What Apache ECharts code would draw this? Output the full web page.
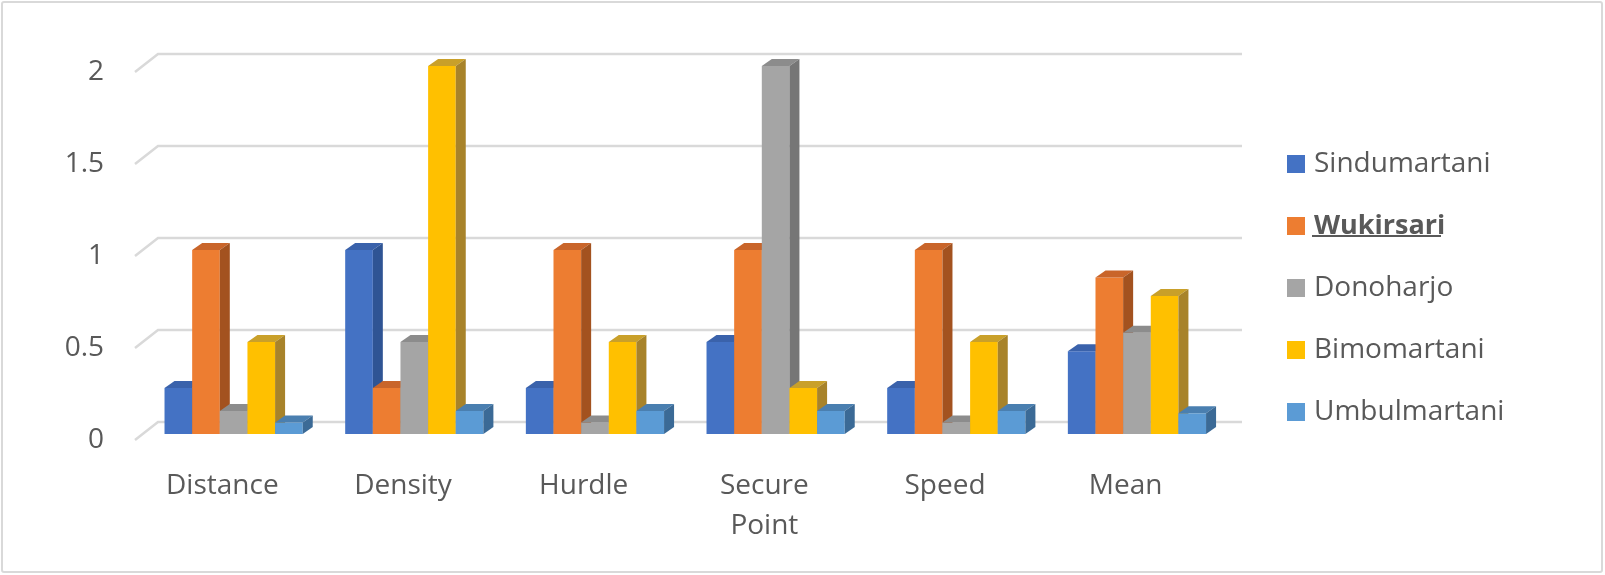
<!DOCTYPE html>
<html>
<head>
<meta charset="utf-8">
<script src="https://cdn.jsdelivr.net/npm/echarts@6/dist/echarts.min.js"></script>
<style>
  html, body { margin: 0; padding: 0; background: #fff; }
  #frame { position: absolute; left: 1px; top: 1px; width: 1602px; height: 572px;
           box-sizing: border-box; border: 2px solid #d9d9d9; border-radius: 3px; }
  #main { position: absolute; left: 0; top: 0; width: 1605px; height: 575px; }
</style>
</head>
<body>
<div id="frame"></div>
<div id="main"></div>
<script>
// values
const categories = ["Distance", "Density", "Hurdle", "Secure\nPoint", "Speed", "Mean"];
const villages = ["Sindumartani", "Wukirsari", "Donoharjo", "Bimomartani", "Umbulmartani"];
const sindumartani = [0.25, 1, 0.25, 0.5, 0.25, 0.45];
const wukirsari = [1, 0.25, 1, 1, 1, 0.85];
const donoharjo = [0.125, 0.5, 0.0625, 2, 0.0625, 0.55];
const bimomartani = [0.5, 2, 0.5, 0.25, 0.5, 0.75];
const umbulmartani = [0.0625, 0.125, 0.125, 0.125, 0.125, 0.1125];
const yTicks = [0, 0.5, 1, 1.5, 2];

const seriesValues = [sindumartani, wukirsari, donoharjo, bimomartani, umbulmartani];
// front / top / side face colours
const faces = [
  ["#4472C4", "#3a62ab", "#2f5494"],
  ["#ED7D31", "#c9652a", "#a3521f"],
  ["#A5A5A5", "#8c8c8c", "#767676"],
  ["#FFC000", "#c9a02a", "#a8832a"],
  ["#5B9BD5", "#4a7fb0", "#3b6a96"],
];
const textColor = "#595959";
const font = "'Open Sans', 'Noto Sans', sans-serif";
const depthX = 10, depthY = 7;

function barRenderer(idx) {
  const [front, top, side] = faces[idx];
  return function (params, api) {
    const c = api.coord([api.value(0), api.value(1)]);
    const base = api.coord([api.value(0), 0]);
    const band = api.size([1, 0])[0];
    const w = band * 0.153;
    const x0 = c[0] - band * 0.32 + idx * w;
    const x1 = x0 + w;
    const yt = c[1], yb = base[1];
    return {
      type: "group",
      children: [
        { type: "rect", shape: { x: x0, y: yt, width: w, height: yb - yt }, style: { fill: front } },
        {
          type: "polygon",
          shape: { points: [[x0, yt], [x1, yt], [x1 + depthX, yt - depthY], [x0 + depthX, yt - depthY]] },
          style: { fill: top },
        },
        {
          type: "polygon",
          shape: { points: [[x1, yt], [x1, yb], [x1 + depthX, yb - depthY], [x1 + depthX, yt - depthY]] },
          style: { fill: side },
        },
      ],
    };
  };
}

// back-wall gridlines with the little diagonal towards the front
function gridRenderer(params, api) {
  const cs = params.coordSys;
  const y0 = api.coord([0, api.value(1)])[1];
  return {
    type: "polyline",
    shape: { points: [[cs.x + 3, y0 + 6], [cs.x + 26, y0 - 12], [cs.x + cs.width + 26, y0 - 12]] },
    style: { stroke: "#d9d9d9", lineWidth: 2.5, fill: null },
  };
}

const series = [
  {
    type: "custom",
    name: "grid",
    renderItem: gridRenderer,
    data: yTicks.map((t) => [0, t]),
    encode: { x: 0, y: 1 },
    z: 1,
    silent: true,
  },
];
villages.forEach((name, i) => {
  series.push({
    type: "custom",
    name: name,
    renderItem: barRenderer(i),
    itemStyle: { color: faces[i][0] },
    data: seriesValues[i].map((v, k) => [k, v]),
    encode: { x: 0, y: 1 },
    z: 2 + i,
  });
});

const chart = echarts.init(document.getElementById("main"));
chart.setOption({
  animation: false,
  grid: { left: 132, top: 66, width: 1084, bottom: 141 },
  xAxis: {
    type: "category",
    data: categories,
    axisLine: { show: false },
    axisTick: { show: false },
    axisLabel: {
      interval: 0,
      margin: 32,
      color: textColor,
      fontFamily: font,
      fontSize: 28,
      lineHeight: 40,
    },
  },
  yAxis: {
    type: "value",
    min: 0,
    max: 2,
    interval: 0.5,
    axisLine: { show: false },
    axisTick: { show: false },
    splitLine: { show: false },
    axisLabel: {
      margin: 28,
      // empty spacer line pushes the number down onto the front edge of the gridline
      formatter: (v) => "{s|}\n{v|" + v + "}",
      rich: {
        s: { lineHeight: 12, fontSize: 12 },
        v: { color: textColor, fontFamily: font, fontSize: 28, lineHeight: 34 },
      },
    },
  },
  legend: {
    data: villages,
    orient: "vertical",
    left: 1282,
    top: 142,
    icon: "rect",
    itemWidth: 18,
    itemHeight: 18,
    itemGap: 28,
    formatter: (name) => (name === "Wukirsari" ? "{b|" + name + "}" : name),
    textStyle: {
      color: textColor,
      fontFamily: font,
      fontSize: 28,
      lineHeight: 34,
      padding: [0, 0, 0, 4],
      rich: { b: { fontWeight: "bold", color: textColor, fontFamily: font, fontSize: 27, lineHeight: 34 } },
    },
  },
  graphic: [
    // underline under the highlighted legend entry
    { type: "rect", shape: { x: 1312, y: 235, width: 129, height: 2 }, style: { fill: textColor }, silent: true },
  ],
  series: series,
});
</script>
</body>
</html>
